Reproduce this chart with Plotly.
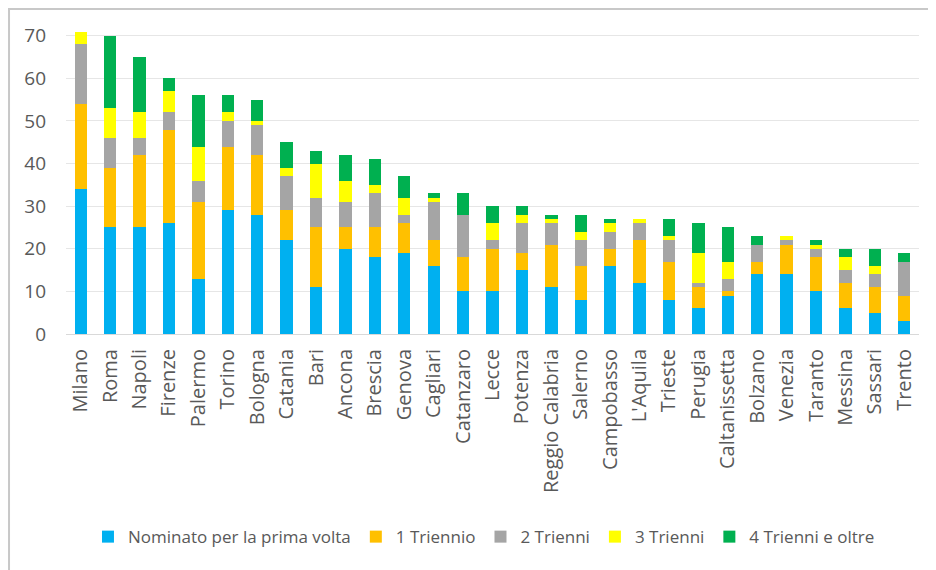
import plotly.graph_objects as go

cities = ["Milano", "Roma", "Napoli", "Firenze", "Palermo", "Torino", "Bologna", "Catania", "Bari",
          "Ancona", "Brescia", "Genova", "Cagliari", "Catanzaro", "Lecce", "Potenza", "Reggio Calabria",
          "Salerno", "Campobasso", "L'Aquila", "Trieste", "Perugia", "Caltanissetta", "Bolzano",
          "Venezia", "Taranto", "Messina", "Sassari", "Trento"]

prima_volta = [34, 25, 25, 26, 13, 29, 28, 22, 11, 20, 18, 19, 16, 10, 10, 15, 11, 8, 16, 12, 8, 6, 9, 14, 14, 10, 6, 5, 3]
triennio_1  = [20, 14, 17, 22, 18, 15, 14, 7, 14, 5, 7, 7, 6, 8, 10, 4, 10, 8, 4, 10, 9, 5, 1, 3, 7, 8, 6, 6, 6]
trienni_2   = [14, 7, 4, 4, 5, 6, 7, 8, 7, 6, 8, 2, 9, 10, 2, 7, 5, 6, 4, 4, 5, 1, 3, 4, 1, 2, 3, 3, 8]
trienni_3   = [3, 7, 6, 5, 8, 2, 1, 2, 8, 5, 2, 4, 1, 0, 4, 2, 1, 2, 2, 1, 1, 7, 4, 0, 1, 1, 3, 2, 0]
trienni_4   = [0, 17, 13, 3, 12, 4, 5, 6, 3, 6, 6, 5, 1, 5, 4, 2, 1, 4, 1, 0, 4, 7, 8, 2, 0, 1, 2, 4, 2]

series = [
    ("Nominato per la prima volta", prima_volta, "#00B0F0"),
    ("1 Triennio", triennio_1, "#FFC000"),
    ("2 Trienni", trienni_2, "#A5A5A5"),
    ("3 Trienni", trienni_3, "#FFFF00"),
    ("4 Trienni e oltre", trienni_4, "#00B050"),
]

fig = go.Figure()
for name, vals, col in series:
    fig.add_trace(go.Bar(x=cities, y=vals, name=name, marker=dict(color=col, line=dict(width=0))))

fig.update_layout(
    barmode="stack",
    bargap=0.58,
    width=928, height=562,
    margin=dict(l=58, r=17, t=15, b=236),
    plot_bgcolor="white", paper_bgcolor="white",
    font=dict(family="Open Sans, Arial, sans-serif", color="#595959"),
    showlegend=True,
    legend=dict(orientation="h", x=0.49, xanchor="center", y=-0.653, yanchor="middle",
                font=dict(size=17, color="#595959"), traceorder="normal"),
    xaxis=dict(tickangle=-90, tickfont=dict(size=20, color="#595959"), showline=True,
               linecolor="#d9d9d9", ticks="", ticklabelstandoff=6, automargin=False),
    yaxis=dict(range=[0, 73], tickvals=[0, 10, 20, 30, 40, 50, 60, 70], tickfont=dict(size=19, color="#595959"),
               gridcolor="#e6e6e6", gridwidth=1, zeroline=False, ticks="", ticklabelstandoff=19,
               automargin=False),
    shapes=[
        dict(type="line", xref="paper", yref="paper", x0=-0.068, x1=1.03, y0=1.045, y1=1.045,
             line=dict(color="#c8c8c8", width=2)),
        dict(type="line", xref="paper", yref="paper", x0=-0.0668, x1=-0.0668, y0=1.045, y1=-0.8,
             line=dict(color="#c8c8c8", width=2)),
    ],
)

fig.write_html("out.html")
